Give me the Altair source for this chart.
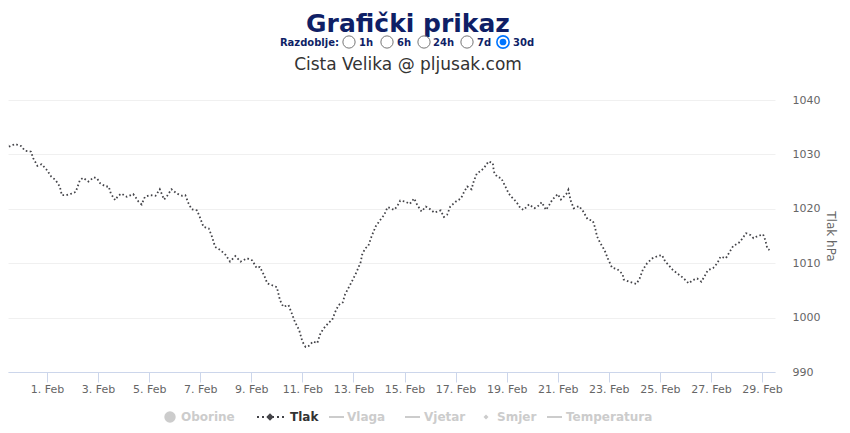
import altair as alt
import pandas as pd

# ---- data ----
hours = [8, 12, 18, 24, 27, 33, 35, 39, 43, 48, 52, 56, 60, 62, 66, 71, 75, 79, 82, 87,
         92, 95, 98, 103, 106, 108, 112, 115, 118, 123, 129, 131, 134, 137, 140, 145, 150, 154, 158, 161,
         165, 170, 175, 178, 181, 184, 189, 192, 195, 200, 203, 206, 211, 216, 220, 225, 230, 236, 241, 245,
         248, 252, 255, 259, 264, 267, 270, 275, 278, 281, 285, 288, 291, 294, 298, 302, 305, 308, 313, 316,
         319, 322, 326, 328, 332, 336, 339, 343, 344, 347, 350, 353, 357, 361, 365, 368, 371, 374, 377, 380,
         385, 389, 393, 396, 400, 404, 407, 412, 415, 418, 421, 424, 427, 432, 437, 440, 443, 447, 449, 452,
         456, 459, 463, 467, 468, 471, 475, 478, 482, 485, 489, 493, 496, 501, 506, 509, 513, 517, 520, 523,
         528, 531, 536, 538, 540, 543, 548, 552, 556, 561, 563, 565, 568, 572, 575, 579, 584, 589, 590, 595,
         600, 602, 605, 608, 612, 617, 622, 626, 629, 632, 636, 641, 644, 648, 651, 655, 659, 663, 666, 669,
         674, 678, 681, 686, 689, 693, 698, 701, 705, 709, 712, 716, 721, 723, 725, 727]
pressure = [1032.6, 1031.4, 1031.9, 1031.5, 1030.7, 1030.5, 1029.3, 1027.9, 1028.2, 1027.1,
            1025.9, 1025.3, 1024.1, 1022.5, 1022.5, 1022.8, 1023.1, 1025.3, 1025.7, 1025.0,
            1025.8, 1025.6, 1024.7, 1024.1, 1024.1, 1022.8, 1021.6, 1022.4, 1022.8, 1022.2,
            1022.7, 1022.2, 1021.3, 1020.8, 1022.2, 1022.5, 1022.4, 1023.6, 1021.7, 1022.4,
            1023.6, 1022.8, 1022.4, 1022.5, 1021.0, 1019.9, 1019.7, 1018.3, 1016.7, 1016.4,
            1014.9, 1013.0, 1012.4, 1011.5, 1010.3, 1011.3, 1010.3, 1010.9, 1010.5, 1009.1,
            1009.3, 1007.8, 1006.3, 1006.0, 1005.6, 1003.2, 1002.0, 1002.3, 1000.8, 999.2,
            997.7, 995.6, 994.6, 994.8, 995.6, 995.3, 997.1, 998.0, 999.1, 999.6,
            1001.1, 1002.3, 1002.8, 1004.2, 1005.7, 1007.2, 1008.4, 1010.3, 1011.5, 1012.7,
            1013.2, 1014.9, 1016.8, 1017.9, 1018.9, 1020.3, 1020.1, 1019.8, 1020.4, 1021.5,
            1021.3, 1020.9, 1021.9, 1020.7, 1019.5, 1020.4, 1020.1, 1019.3, 1019.5, 1019.7,
            1018.5, 1018.9, 1020.4, 1021.3, 1021.9, 1023.1, 1024.1, 1023.6, 1025.0, 1026.5,
            1027.0, 1027.6, 1028.7, 1028.4, 1026.8, 1025.9, 1025.6, 1024.4, 1022.8, 1022.1,
            1021.3, 1020.1, 1019.8, 1020.8, 1020.1, 1020.4, 1021.2, 1019.8, 1020.7, 1021.7,
            1022.7, 1021.7, 1022.7, 1023.5, 1021.6, 1020.1, 1020.5, 1019.5, 1018.1, 1017.8,
            1016.6, 1014.9, 1013.7, 1012.4, 1010.9, 1009.2, 1008.9, 1008.0, 1007.0, 1006.6,
            1006.3, 1006.2, 1007.2, 1008.8, 1010.0, 1010.9, 1011.3, 1011.5, 1010.3, 1009.7,
            1008.8, 1008.0, 1007.6, 1006.9, 1006.3, 1006.9, 1007.2, 1006.6, 1007.6, 1008.7,
            1009.1, 1010.0, 1011.2, 1010.9, 1011.9, 1013.2, 1013.7, 1014.4, 1015.5, 1015.2,
            1014.6, 1015.0, 1015.3, 1014.3, 1012.7, 1012.4]
tick_days = list(range(1, 30, 2))
y_ticks = [990, 1000, 1010, 1020, 1030, 1040]
legend_labels = ["Oborine", "Tlak", "Vlaga", "Vjetar", "Smjer", "Temperatura"]
periods = ["1h", "6h", "24h", "7d", "30d"]
title_text = "Grafički prikaz"
subtitle_text = "Cista Velika @ pljusak.com"
period_label = "Razdoblje:"

NAVY = "#0f1f66"
GREY = "#cccccc"
SERIES = "#434348"
FONT = "DejaVu Sans"

base_time = pd.Timestamp("2024-01-30 00:00")
df = pd.DataFrame({"time": base_time + pd.to_timedelta(hours, unit="h"), "tlak": pressure})

x_scale = alt.Scale(domain=[alt.DateTime(year=2024, month=1, date=30, hours=11, minutes=21),
                            alt.DateTime(year=2024, month=2, date=29, hours=12, minutes=12)])

line = alt.Chart(df).mark_line(color=SERIES, strokeWidth=1.8, strokeDash=[1.6, 2.4], clip=True).encode(
    x=alt.X("time:T", scale=x_scale,
            axis=alt.Axis(values=[alt.DateTime(year=2024, month=2, date=d) for d in tick_days],
                          format="%-d. %b", title=None, labelColor="#666666", labelFont=FONT,
                          labelFontSize=11, domainColor="#ccd6eb", tickColor="#ccd6eb", tickSize=10,
                          labelPadding=1, grid=False, labelOverlap=False, labelFlush=False)),
    y=alt.Y("tlak:Q", scale=alt.Scale(domain=[990, 1040], nice=False, zero=False),
            axis=alt.Axis(orient="right", values=y_ticks, format="d", title="Tlak hPa",
                          titleColor="#666666", titleFont=FONT, titleFontSize=12,
                          titleFontWeight="normal", titlePadding=4,
                          labelColor="#666666", labelFont=FONT, labelFontSize=11, labelPadding=17,
                          ticks=False, tickSize=0, domain=False, grid=True, gridColor="#f0f0f0",
                          labelFlush=False)),
)

one = pd.DataFrame({"k": [0]})


def txt(text, x, y, align="left", size=12, weight="bold", color="#333333", baseline="alphabetic"):
    return alt.Chart(one).mark_text(text=text, align=align, baseline=baseline, font=FONT,
                                    fontSize=size, fontWeight=weight, color=color).encode(
        x=alt.value(x), y=alt.value(y))


layers = [line]
# title block
layers.append(txt(title_text, 400, -68, align="center", size=25, color=NAVY))
layers.append(txt(period_label, 331, -54, align="right", size=10, color=NAVY))
radio_x = [341, 379, 416, 459, 495]
label_x = [351, 389, 425, 469, 505]
for i, p in enumerate(periods):
    selected = p == "30d"
    layers.append(alt.Chart(one).mark_circle(size=150, fill="white", opacity=1,
                                             stroke="#0075ff" if selected else "#767676",
                                             strokeWidth=1.6 if selected else 1).encode(
        x=alt.value(radio_x[i]), y=alt.value(-58)))
    if selected:
        layers.append(alt.Chart(one).mark_circle(size=45, color="#0075ff", opacity=1).encode(
            x=alt.value(radio_x[i]), y=alt.value(-58)))
    layers.append(txt(p, label_x[i], -54, size=10, color=NAVY))
layers.append(txt(subtitle_text, 400, -30, align="center", size=17, weight="normal", color="#333333"))

# legend
LY = 317
text_x = [173, 282, 339, 416, 489, 558]
for lab, tx in zip(legend_labels, text_x):
    layers.append(txt(lab, tx, LY, size=12, color="#333333" if lab == "Tlak" else GREY,
                      baseline="middle"))
layers.append(alt.Chart(one).mark_circle(size=130, color=GREY, opacity=1).encode(
    x=alt.value(162), y=alt.value(LY)))
layers.append(alt.Chart(one).mark_rule(color=SERIES, strokeWidth=2, strokeDash=[2, 3]).encode(
    x=alt.value(249), x2=alt.value(276), y=alt.value(LY)))
layers.append(alt.Chart(one).mark_point(shape="diamond", filled=True, size=55, color=SERIES, opacity=1).encode(
    x=alt.value(262), y=alt.value(LY)))
for x1 in [321, 397, 539]:
    layers.append(alt.Chart(one).mark_rule(color=GREY, strokeWidth=2).encode(
        x=alt.value(x1), x2=alt.value(x1 + 15), y=alt.value(LY)))
layers.append(alt.Chart(one).mark_point(shape="diamond", filled=True, size=25, color=GREY, opacity=1).encode(
    x=alt.value(478), y=alt.value(LY)))

chart = alt.layer(*layers).properties(
    width=767, height=272,
    padding={"left": 0, "top": 92, "right": 66, "bottom": 53},
    autosize=alt.AutoSizeParams(type="none"),
    background="white",
).configure_view(stroke=None)

chart.save("out.html", embed_options={"renderer": "svg", "actions": False})
